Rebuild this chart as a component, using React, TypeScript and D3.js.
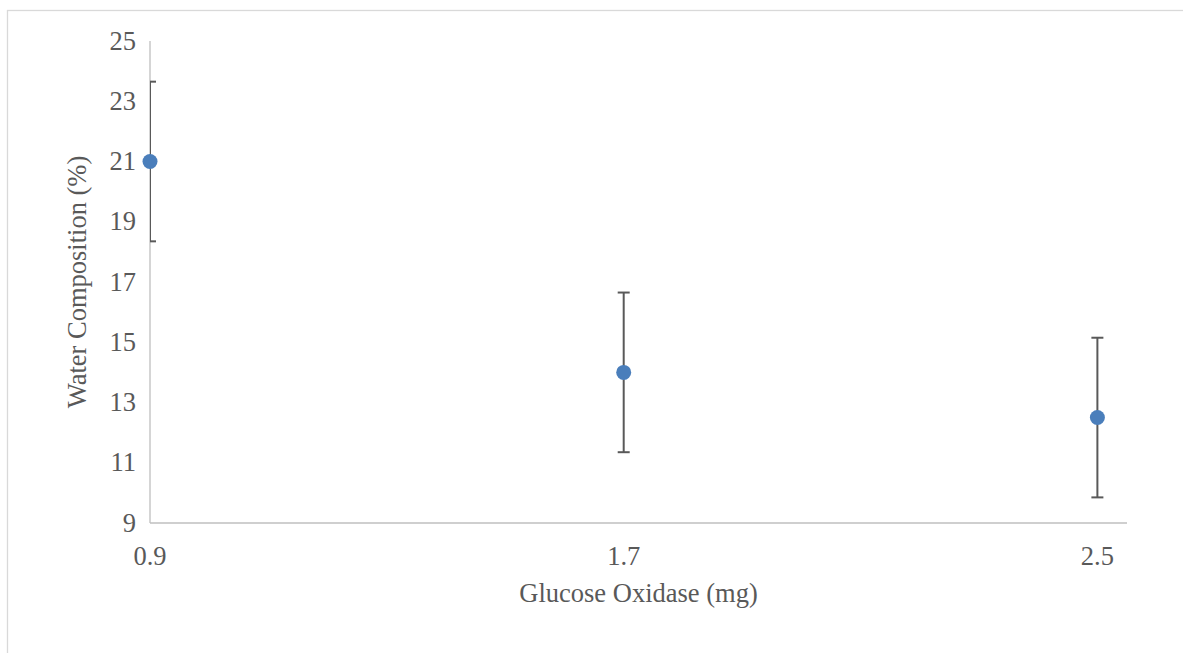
import { useEffect, useRef } from 'react';
import * as d3 from 'd3';

// data
const doses = [0.9, 1.7, 2.5];
const waterPct = [21, 14, 12.5];
const errors = [2.65, 2.65, 2.65];
const xTicks = [0.9, 1.7, 2.5];
const yTicks = [9, 11, 13, 15, 17, 19, 21, 23, 25];
const xDomain = [0.9, 2.55];
const yDomain = [9, 25];

const App = () => {
  const svgRef = useRef<SVGSVGElement>(null);

  useEffect(() => {
    const root = d3.select(svgRef.current);
    root.selectAll('*').remove();

    const W = 1183;
    const H = 653;
    const left = 150;
    const right = 1127;
    const top = 41;
    const bottom = 523;
    const font = '"Liberation Serif", "Times New Roman", serif';
    const fontSize = '26.5px';
    const textColor = '#595959';

    root.attr('width', W).attr('height', H);

    // chart area border (runs off the page on the right and bottom)
    root
      .append('rect')
      .attr('x', 7.5)
      .attr('y', 10.5)
      .attr('width', 1300)
      .attr('height', 800)
      .attr('fill', '#fff')
      .attr('stroke', '#d9d9d9')
      .attr('stroke-width', 1.3);

    const x = d3.scaleLinear().domain(xDomain).range([left, right]);
    const y = d3.scaleLinear().domain(yDomain).range([bottom, top]);

    root
      .append('defs')
      .append('clipPath')
      .attr('id', 'plot-clip')
      .append('rect')
      .attr('x', left)
      .attr('y', top)
      .attr('width', right - left)
      .attr('height', bottom - top);

    // axes lines
    root
      .append('line')
      .attr('x1', left)
      .attr('x2', left)
      .attr('y1', top)
      .attr('y2', bottom)
      .attr('stroke', '#bfbfbf')
      .attr('stroke-width', 1.3);
    root
      .append('line')
      .attr('x1', left)
      .attr('x2', right)
      .attr('y1', bottom)
      .attr('y2', bottom)
      .attr('stroke', '#bfbfbf')
      .attr('stroke-width', 1.3);

    // tick labels
    root
      .selectAll('.ytick')
      .data(yTicks)
      .enter()
      .append('text')
      .attr('class', 'ytick')
      .attr('x', left - 14)
      .attr('y', (d) => y(d))
      .attr('dy', '0.33em')
      .attr('text-anchor', 'end')
      .style('font-family', font)
      .style('font-size', fontSize)
      .attr('fill', textColor)
      .text((d) => d);

    root
      .selectAll('.xtick')
      .data(xTicks)
      .enter()
      .append('text')
      .attr('class', 'xtick')
      .attr('x', (d) => x(d))
      .attr('y', 565)
      .attr('text-anchor', 'middle')
      .style('font-family', font)
      .style('font-size', fontSize)
      .attr('fill', textColor)
      .text((d) => d3.format('.1f')(d));

    // axis titles
    root
      .append('text')
      .attr('x', (left + right) / 2)
      .attr('y', 602)
      .attr('text-anchor', 'middle')
      .style('font-family', font)
      .style('font-size', fontSize)
      .attr('fill', textColor)
      .text('Glucose Oxidase (mg)');

    root
      .append('text')
      .attr('transform', `translate(86,${(top + bottom) / 2}) rotate(-90)`)
      .attr('text-anchor', 'middle')
      .style('font-family', font)
      .style('font-size', fontSize)
      .attr('fill', textColor)
      .text('Water Composition (%)');

    const points = doses.map((d, i) => ({ x: d, y: waterPct[i], e: errors[i] }));
    const plot = root.append('g').attr('clip-path', 'url(#plot-clip)');

    // error bars
    const bars = plot.selectAll('.err').data(points).enter().append('g').attr('class', 'err');
    bars
      .append('line')
      .attr('x1', (d) => x(d.x))
      .attr('x2', (d) => x(d.x))
      .attr('y1', (d) => y(d.y + d.e))
      .attr('y2', (d) => y(d.y - d.e))
      .attr('stroke', '#595959')
      .attr('stroke-width', 2);
    [1, -1].forEach((s) => {
      bars
        .append('line')
        .attr('x1', (d) => x(d.x) - 6)
        .attr('x2', (d) => x(d.x) + 6)
        .attr('y1', (d) => y(d.y + s * d.e))
        .attr('y2', (d) => y(d.y + s * d.e))
        .attr('stroke', '#595959')
        .attr('stroke-width', 2);
    });

    // markers
    root
      .selectAll('.dot')
      .data(points)
      .enter()
      .append('circle')
      .attr('class', 'dot')
      .attr('cx', (d) => x(d.x))
      .attr('cy', (d) => y(d.y))
      .attr('r', 7.5)
      .attr('fill', '#4a7ebb');
  }, []);

  return <svg ref={svgRef} style={{ position: 'absolute', left: 0, top: 0, display: 'block' }}></svg>;
};

export default App;
